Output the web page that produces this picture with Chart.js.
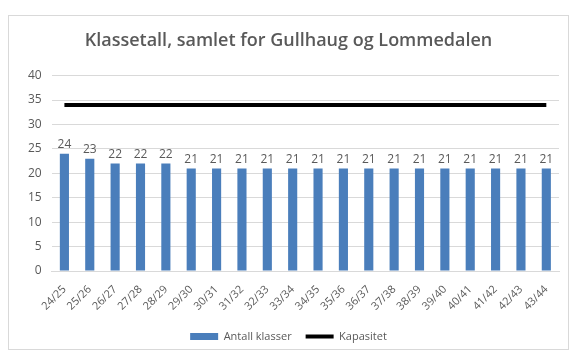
<!DOCTYPE html>
<html>
<head>
<meta charset="utf-8">
<script src="https://cdn.jsdelivr.net/npm/chart.js@4"></script>
<style>
  html, body { margin: 0; padding: 0; background: #fff; }
  #wrap { position: relative; width: 571px; height: 356px; }
</style>
</head>
<body>
<div id="wrap"><canvas id="c" width="571" height="356"></canvas></div>
<script>
// School years
const years = ['24/25','25/26','26/27','27/28','28/29','29/30','30/31','31/32','32/33','33/34',
               '34/35','35/36','36/37','37/38','38/39','39/40','40/41','41/42','42/43','43/44'];
// Number of classes per year
const classes = [24, 23, 22, 22, 22, 21, 21, 21, 21, 21, 21, 21, 21, 21, 21, 21, 21, 21, 21, 21];
// Capacity (classes)
const capacity = [34, 34, 34, 34, 34, 34, 34, 34, 34, 34, 34, 34, 34, 34, 34, 34, 34, 34, 34, 34];
// Value axis ticks
const yTicks = [0, 5, 10, 15, 20, 25, 30, 35, 40];

const FONT = '"Open Sans", "Liberation Sans", sans-serif';
const GREY = '#595959';

// Light frame around the chart
const framePlugin = {
  id: 'frame',
  beforeDraw(chart) {
    const ctx = chart.ctx;
    ctx.save();
    ctx.fillStyle = '#fff';
    ctx.fillRect(0, 0, chart.width, chart.height);
    ctx.strokeStyle = '#d9d9d9';
    ctx.lineWidth = 1;
    ctx.strokeRect(8.5, 15.5, 560, 334);
    ctx.restore();
  }
};

// Value labels above the bars
const barLabels = {
  id: 'barLabels',
  afterDatasetsDraw(chart) {
    const ctx = chart.ctx;
    const meta = chart.getDatasetMeta(1);
    ctx.save();
    ctx.fillStyle = GREY;
    ctx.font = '12px ' + FONT;
    ctx.textAlign = 'center';
    ctx.textBaseline = 'bottom';
    meta.data.forEach((bar, i) => {
      ctx.fillText(String(classes[i]), bar.x, bar.y - 3);
    });
    ctx.restore();
  }
};

new Chart(document.getElementById('c'), {
  data: {
    labels: years,
    datasets: [
      {
        type: 'line',
        label: 'Kapasitet',
        data: capacity,
        borderColor: '#000',
        backgroundColor: '#000',
        borderWidth: 4,
        pointRadius: 0,
        pointStyle: 'line',
        order: 0
      },
      {
        type: 'bar',
        label: 'Antall klasser',
        data: classes,
        backgroundColor: '#4a7ebb',
        borderWidth: 0,
        pointStyle: 'rect',
        barPercentage: 0.36,
        categoryPercentage: 1,
        order: 1
      }
    ]
  },
  options: {
    responsive: false,
    animation: false,
    devicePixelRatio: 1,
    layout: { padding: { left: 18, right: 12, top: 30, bottom: 4 } },
    plugins: {
      title: {
        display: true,
        text: 'Klassetall, samlet for Gullhaug og Lommedalen',
        color: GREY,
        font: { family: FONT, size: 18, weight: '600' },
        padding: { top: 0, bottom: 24 }
      },
      legend: {
        position: 'bottom',
        reverse: true,
        labels: {
          usePointStyle: true,
          pointStyleWidth: 28,
          boxHeight: 7,
          color: GREY,
          font: { family: FONT, size: 11 },
          padding: 14
        }
      },
      tooltip: { enabled: false }
    },
    scales: {
      x: {
        grid: { display: false },
        border: { color: '#d9d9d9' },
        ticks: {
          color: GREY,
          font: { family: FONT, size: 11 },
          padding: 4,
          maxRotation: 45,
          minRotation: 45,
          autoSkip: false
        }
      },
      y: {
        min: 0,
        max: 40,
        afterBuildTicks(axis) { axis.ticks = yTicks.map(v => ({ value: v })); },
        grid: { color: '#d9d9d9', drawTicks: false },
        border: { display: false },
        ticks: {
          color: GREY,
          font: { family: FONT, size: 12 },
          padding: 10
        }
      }
    }
  },
  plugins: [framePlugin, barLabels]
});
</script>
</body>
</html>
